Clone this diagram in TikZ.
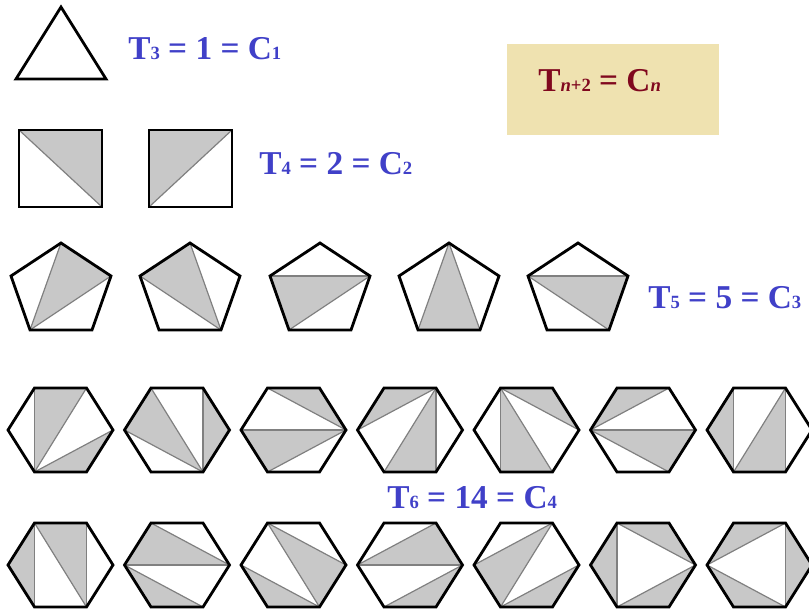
\documentclass[tikz,border=0pt]{standalone}
\usepackage{fontspec}
\setmainfont{Liberation Serif}
\definecolor{eqblue}{RGB}{64,64,200}
\definecolor{eqred}{RGB}{128,8,30}
\definecolor{boxtan}{RGB}{239,226,176}
\definecolor{lightgray}{RGB}{200,200,200}
\newcommand{\lowsub}[1]{{\fontsize{14}{14}\selectfont #1}}
\tikzset{
  outline/.style={line width=2.1pt, line join=miter},
  diag/.style={gray, line width=0.9pt},
  grayfill/.style={fill=lightgray},
  eqlabel/.style={anchor=base west, inner sep=0pt,
    font=\fontsize{25}{25}\selectfont\bfseries, text=eqblue}
}
% hexagon: centre x, centre y, shaded triangles, diagonals
\newcommand{\hexa}[4]{%
  \begin{scope}[shift={(#1,#2)}]
    \coordinate (W) at (-52.5,0);
    \coordinate (NW) at (-26,-42);
    \coordinate (NE) at (26,-42);
    \coordinate (E) at (52.5,0);
    \coordinate (SE) at (26,42);
    \coordinate (SW) at (-26,42);
    \foreach \a/\b/\c in {#3} \fill[grayfill] (\a)--(\b)--(\c)--cycle;
    \foreach \a/\b in {#4} \draw[diag] (\a)--(\b);
    \draw[outline] (W)--(NW)--(NE)--(E)--(SE)--(SW)--cycle;
  \end{scope}}
% pentagon: centre x, centre y, shaded triangle, diagonals
\newcommand{\penta}[4]{%
  \begin{scope}[shift={(#1,#2)}]
    \coordinate (A) at (0,-43.5);
    \coordinate (B) at (50,-10.5);
    \coordinate (C) at (31,43.5);
    \coordinate (D) at (-31,43.5);
    \coordinate (E) at (-50,-10.5);
    \foreach \a/\b/\c in {#3} \fill[grayfill] (\a)--(\b)--(\c)--cycle;
    \foreach \a/\b in {#4} \draw[diag] (\a)--(\b);
    \draw[outline] (A)--(B)--(C)--(D)--(E)--cycle;
  \end{scope}}

\begin{document}
\begin{tikzpicture}[x=0.75pt, y=-0.75pt]
  \useasboundingbox (0,0) rectangle (809,609);

  % n = 3
  \draw[outline] (16,79)--(61,7)--(106,79)--cycle;
  \node[eqlabel] (t3) at (128,60) {T\lowsub{3} = 1 = C\lowsub{1}};

  % formula box
  \fill[boxtan] (507,44) rectangle (719,135);
  \node[eqlabel, text=eqred] (tn) at (538,92)
    {T\lowsub{\textit{n}+2} = C\lowsub{\textit{n}}};

  % n = 4
  \fill[grayfill] (19,130)--(102,130)--(102,207)--cycle;
  \draw[diag] (19,130)--(102,207);
  \draw[outline] (19,130) rectangle (102,207);
  \fill[grayfill] (149,130)--(232,130)--(149,207)--cycle;
  \draw[diag] (149,207)--(232,130);
  \draw[outline] (149,130) rectangle (232,207);
  \node[eqlabel] (t4) at (259,175) {T\lowsub{4} = 2 = C\lowsub{2}};

  % n = 5
  \penta{61}{286.5}{D/A/B}{D/A,D/B}
  \penta{190}{286.5}{C/A/E}{C/A,C/E}
  \penta{320}{286.5}{E/B/D}{E/B,D/B}
  \penta{449}{286.5}{A/D/C}{A/D,A/C}
  \penta{578}{286.5}{E/B/C}{E/B,E/C}
  \node[eqlabel] (t5) at (648,308) {T\lowsub{5} = 5 = C\lowsub{3}};

  % n = 6, first row
  \hexa{60.5}{430}{NW/NE/SW,SW/E/SE}{NW/SW,SW/NE,SW/E}
  \hexa{177}{430}{W/NW/SE,NE/E/SE}{NW/SE,W/SE,NE/SE}
  \hexa{293.5}{430}{NW/NE/E,W/E/SW}{NW/E,W/E,SW/E}
  \hexa{410}{430}{W/NW/NE,NE/SW/SE}{W/NE,NE/SW,NE/SE}
  \hexa{526.5}{430}{NW/SW/SE,NW/NE/E}{NW/SW,NW/SE,NW/E}
  \hexa{643}{430}{W/NW/NE,W/E/SE}{W/NE,W/E,W/SE}
  \hexa{759.5}{430}{W/NW/SW,SW/NE/SE}{NW/SW,SW/NE,NE/SE}

  \node[eqlabel] (t6) at (387,508) {T\lowsub{6} = 14 = C\lowsub{4}};

  % n = 6, second row
  \hexa{60.5}{565}{W/NW/SW,NW/NE/SE}{NW/SW,NW/SE,NE/SE}
  \hexa{177}{565}{W/NW/E,W/SE/SW}{W/E,NW/E,W/SE}
  \hexa{293.5}{565}{NW/E/SE,W/SW/SE}{NW/E,NW/SE,W/SE}
  \hexa{410}{565}{W/NE/E,E/SE/SW}{W/NE,W/E,E/SW}
  \hexa{526.5}{565}{W/NE/SW,SW/E/SE}{W/NE,NE/SW,SW/E}
  \hexa{643}{565}{W/NW/SW,NW/NE/E,SW/SE/E}{NW/SW,NW/E,SW/E}
  \hexa{759.5}{565}{W/NW/NE,NE/E/SE,W/SE/SW}{W/NE,W/SE,NE/SE}
\end{tikzpicture}
\end{document}
